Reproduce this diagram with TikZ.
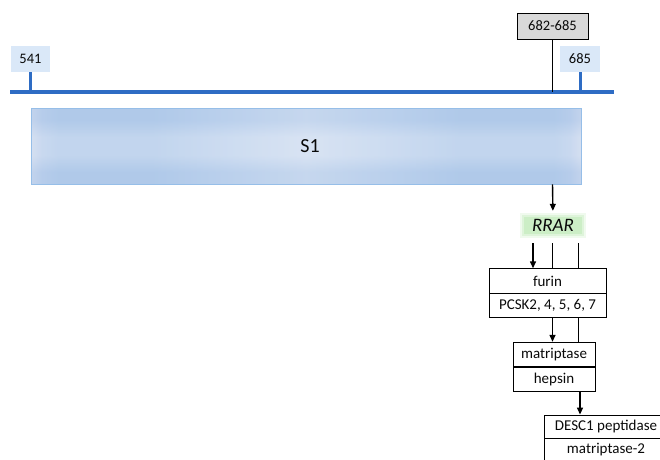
\documentclass[tikz,border=0pt]{standalone}
\usepackage{fontspec}
\setmainfont{Carlito}
\usetikzlibrary{arrows.meta}
\definecolor{axisblue}{RGB}{46,108,196}
\definecolor{labblue}{RGB}{218,232,248}
\definecolor{boxgray}{RGB}{217,217,217}
\definecolor{sedge}{RGB}{150,190,232}
\definecolor{sa}{RGB}{212,221,240}
\definecolor{sb}{RGB}{190,209,237}
\definecolor{sc}{RGB}{178,203,234}
\definecolor{sd}{RGB}{198,216,240}
\definecolor{se}{RGB}{218,228,243}
\definecolor{va}{RGB}{174,200,233}
\definecolor{vb}{RGB}{214,226,243}
\definecolor{glow}{RGB}{204,238,198}
\definecolor{txt}{RGB}{10,10,10}
\pgfdeclarehorizontalshading{sonehs}{100bp}{color(0bp)=(sa); color(25bp)=(sa); color(26bp)=(sb); color(27.5bp)=(sc); color(36bp)=(sc); color(43bp)=(sd); color(50bp)=(se); color(57bp)=(sd); color(64bp)=(sc); color(72.5bp)=(sc); color(74bp)=(sb); color(75bp)=(sa); color(100bp)=(sa)}
\pgfdeclareverticalshading{sonevs}{100bp}{color(0bp)=(va); color(25bp)=(va); color(33bp)=(va); color(44bp)=(vb); color(56bp)=(vb); color(67bp)=(va); color(75bp)=(va); color(100bp)=(va)}
\tikzset{
  numlab/.style={fill=labblue, inner sep=0pt, minimum height=26pt, text=txt, font=\fontsize{14.5}{17}\selectfont},
  graybox/.style={fill=boxgray, draw=black, line width=0.9pt, inner sep=0pt, minimum width=71pt, minimum height=26pt, text=txt, font=\fontsize{14.5}{17}\selectfont},
  tick/.style={draw=axisblue, line width=3pt},
  axisline/.style={draw=axisblue, line width=3.5pt},
  conn/.style={draw=black, line width=1.4pt},
  arr/.style={conn, -{Triangle[length=7pt,width=6pt]}},
  row/.style={draw=black, line width=0.9pt, fill=white, inner sep=0pt, minimum height=24.5pt, text=txt, font=\fontsize{15}{18}\selectfont},
}
\begin{document}
\begin{tikzpicture}[x=1pt,y=-1pt]
\useasboundingbox (0,0) rectangle (660,459);
\clip (0,0) rectangle (660,459);
% axis
\coordinate (axL) at (10,92);
\coordinate (axR) at (614,92);
\node[numlab, minimum width=39pt] (n541) at (30.5,59) {541};
\node[numlab, minimum width=40pt] (n685) at (580,59) {685};
\node[graybox] (n682) at (552.5,26) {682-685};
\draw[axisline] (axL) -- (axR);
\draw[tick] (n541.south) -- (n541.south |- axL);
\draw[tick] (n685.south) -- (n685.south |- axL);
\draw[conn, line width=1.6pt] (n682.south) -- (n682.south |- axL);
% S1
\shade[shading=sonehs] (31,108) rectangle (581,184);
\shade[shading=sonevs, fill opacity=0.45] (31,108) rectangle (581,184);
\node[draw=sedge, line width=0.9pt, minimum width=550pt, minimum height=76pt, inner sep=0pt, text=txt, font=\fontsize{20}{24}\selectfont] (s1) at (306,146) {\hspace*{8pt}S1};
% RRAR glow
\fill[glow, fill opacity=0.3] (520,213) rectangle (586,238);
\fill[glow, fill opacity=0.5] (522,215) rectangle (584,236);
\node[fill=glow, inner sep=0pt, minimum width=58pt, minimum height=17pt, text=txt, font=\fontsize{19}{22}\itshape\selectfont] (rrar) at (553,225.5) {RRAR};
\draw[arr, shorten >=6pt] (s1.south -| n682.south) -- (rrar.north);
% enzymes
\node[row, minimum width=117pt] (furin) at (547.5,281) {furin};
\node[row, minimum width=117pt] (pcsk) at (547.5,305.5) {PCSK2, 4, 5, 6, 7};
\node[row, minimum width=82pt] (matr) at (554,354.5) {matriptase};
\node[row, minimum width=82pt] (hep) at (554,379.5) {hepsin};
\node[row, minimum width=124pt, minimum height=23pt] (desc) at (606,426.5) {DESC1 peptidase};
\node[row, minimum width=124pt, minimum height=24pt] (matr2) at (606,450) {matriptase-2};
% columns
\coordinate (xa) at (533,0);
\coordinate (xb) at (552.5,0);
\coordinate (xc) at (578.5,0);
\coordinate (xd) at (580,0);
\draw[arr] ([yshift=-9pt]rrar.south -| xa) -- (furin.north -| xa);
\draw[conn] ([yshift=-9pt]rrar.south -| xb) -- (furin.north -| xb);
\draw[conn] ([yshift=-9pt]rrar.south -| xc) -- (furin.north -| xc);
\draw[arr] (pcsk.south -| xb) -- (matr.north -| xb);
\draw[conn] (pcsk.south -| xc) -- (matr.north -| xc);
\draw[arr] (hep.south -| xd) -- (desc.north -| xd);
\end{tikzpicture}
\end{document}
